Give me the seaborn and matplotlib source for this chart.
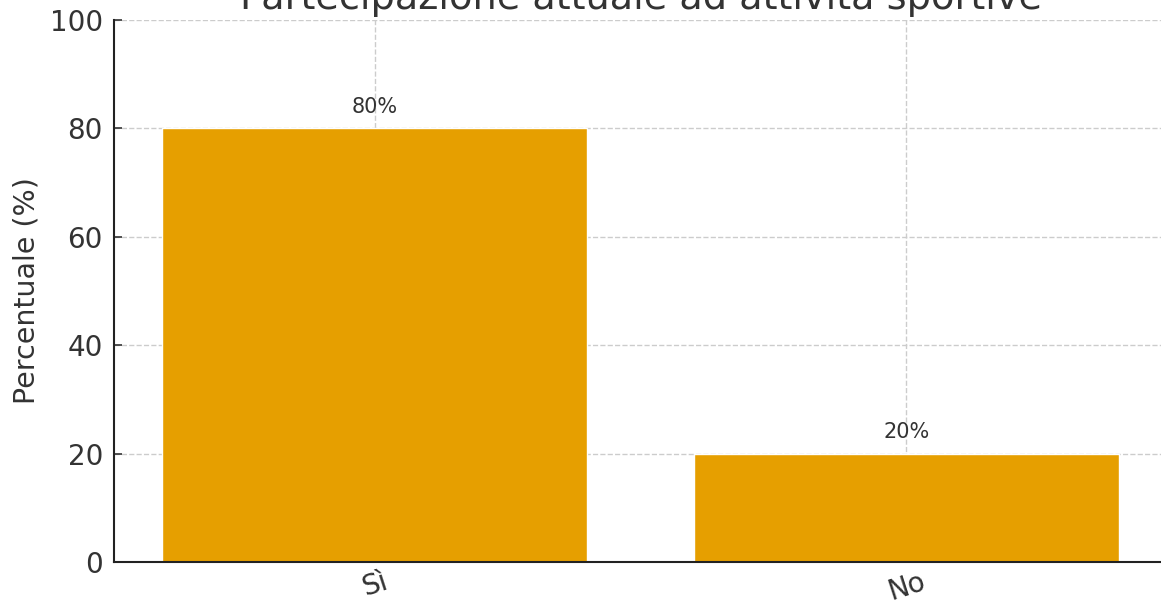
import numpy as np
import pandas as pd
import seaborn as sns
from matplotlib import pyplot as plt

# data
categories = ["Sì", "No"]
percentages = [80, 20]

sns.set_theme(style="ticks")
plt.rcParams['font.family'] = ['DejaVu Sans']
plt.rcParams['text.color'] = '#333333'
plt.rcParams['axes.labelcolor'] = '#333333'
plt.rcParams['xtick.color'] = '#333333'
plt.rcParams['ytick.color'] = '#333333'

df = pd.DataFrame({"Risposta": categories, "Percentuale": percentages})

fig = plt.figure(figsize=(11.61, 6.04), dpi=100)
# axes extend slightly beyond the right edge, like the cropped original
ax = fig.add_axes([114 / 1161, 1 - 562 / 604, (1167 - 114) / 1161, (562 - 20) / 604])

sns.barplot(data=df, x="Risposta", y="Percentuale", color="#E69F00",
            saturation=1, width=0.8, ax=ax)
ax.set_xlim(-0.49, 1.49)
ax.set_ylim(0, 100)

# value labels above bars
for i, v in enumerate(percentages):
    ax.text(i, v + 4, f"{v}%", ha="center", va="center", fontsize=15, color="#333333")

ax.grid(True, linestyle="--", color="#cccccc", linewidth=1)
for bar in ax.patches:
    bar.set_zorder(1)
ax.set_title("Partecipazione attuale ad attività sportive", fontsize=27.5, pad=8)
ax.set_xlabel("")
ax.set_ylabel("Percentuale (%)", fontsize=20.5, labelpad=7)
ax.tick_params(axis="both", direction="in", labelsize=20, length=6, width=1.2, pad=8)
ax.tick_params(axis="x", labelrotation=18, pad=4)
ax.set_yticks([0, 20, 40, 60, 80, 100])
sns.despine(ax=ax, top=True, right=True)
for s in ["left", "bottom"]:
    ax.spines[s].set_color("#222222")
    ax.spines[s].set_linewidth(1.5)

fig.savefig("out.png", dpi=100)
